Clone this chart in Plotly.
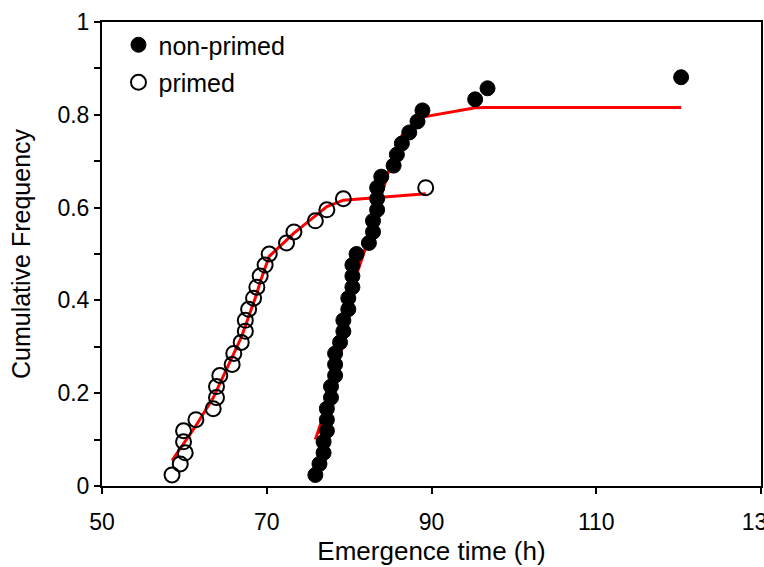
import plotly.graph_objects as go

# ---- data ----
nonprimed_time = [75.9, 76.4, 76.9, 76.9, 77.3, 77.3, 77.3, 77.8, 77.8, 78.3,
                  78.3, 78.3, 78.9, 79.3, 79.3, 79.9, 79.9, 80.4, 80.4, 80.4,
                  80.9, 82.4, 82.9, 82.9, 83.4, 83.4, 83.4, 83.9, 85.4, 85.8,
                  86.4, 87.3, 88.3, 88.9, 95.3, 96.8, 120.3]
nonprimed_freq = [k / 42 for k in range(1, 38)]

primed_time = [58.5, 59.5, 60.1, 59.9, 59.9, 61.4, 63.5, 63.9, 63.9, 64.3,
               65.8, 66.0, 66.9, 67.4, 67.4, 67.8, 68.4, 68.8, 69.2, 69.8,
               70.3, 72.4, 73.3, 75.9, 77.3, 79.3, 89.3]
primed_freq = [k / 42 for k in range(1, 28)]

nonprimed_fit_x = [75.9, 76.4, 76.9, 77.3, 77.8, 78.3, 78.9, 79.3, 79.9, 80.4,
                   80.9, 82.4, 82.9, 83.4, 83.9, 85.4, 85.8, 86.4, 87.3, 88.3,
                   88.9, 95.3, 96.8, 120.3]
nonprimed_fit_y = [0.100, 0.126, 0.153, 0.178, 0.210, 0.240, 0.280, 0.310, 0.365, 0.410,
                   0.455, 0.535, 0.562, 0.591, 0.625, 0.715, 0.732, 0.755, 0.772, 0.787,
                   0.795, 0.815, 0.816, 0.816]

primed_fit_x = [58.5, 59.5, 59.9, 61.4, 63.5, 63.9, 64.3, 65.8, 66.0, 66.9,
                67.4, 67.9, 68.4, 68.8, 69.2, 69.8, 70.3, 72.4, 73.3, 75.9,
                77.3, 79.3, 89.3]
primed_fit_y = [0.055, 0.080, 0.090, 0.130, 0.190, 0.205, 0.220, 0.275, 0.283, 0.320,
                0.345, 0.370, 0.395, 0.415, 0.440, 0.470, 0.495, 0.530, 0.545, 0.582,
                0.602, 0.616, 0.630]

x_ticks = [50, 70, 90, 110, 130]
y_ticks = [0, 0.2, 0.4, 0.6, 0.8, 1]
y_tick_labels = ["0", "0.2", "0.4", "0.6", "0.8", "1"]

FONT = "Arial, Liberation Sans, sans-serif"

fig = go.Figure()
fig.add_trace(go.Scatter(x=nonprimed_fit_x, y=nonprimed_fit_y, mode="lines",
                         line=dict(color="#ff0000", width=3), showlegend=False,
                         hoverinfo="skip"))
fig.add_trace(go.Scatter(x=primed_fit_x, y=primed_fit_y, mode="lines",
                         line=dict(color="#ff0000", width=3), showlegend=False,
                         hoverinfo="skip"))
fig.add_trace(go.Scatter(x=nonprimed_time, y=nonprimed_freq, mode="markers",
                         name="non-primed", legendgroup="a",
                         marker=dict(symbol="circle", size=15, color="black",
                                     line=dict(color="black", width=1))))
fig.add_trace(go.Scatter(x=primed_time, y=primed_freq, mode="markers",
                         name="primed", legendgroup="b",
                         marker=dict(symbol="circle-open", size=15, color="black",
                                     line=dict(color="black", width=2))))

fig.update_layout(
    width=764, height=567,
    paper_bgcolor="white", plot_bgcolor="white",
    margin=dict(l=102, r=3, t=22, b=81, autoexpand=False),
    font=dict(family=FONT, size=23, color="black"),
    legend=dict(x=0.025, y=1.0, xanchor="left", yanchor="top",
                bgcolor="rgba(0,0,0,0)", font=dict(size=25, color="black"),
                tracegroupgap=2, traceorder="grouped", itemwidth=30),
    xaxis=dict(range=[50, 130], tickvals=x_ticks, ticktext=[str(v) for v in x_ticks],
               showgrid=False, zeroline=False, showline=True, linecolor="black",
               linewidth=2, mirror=True, ticks="outside", ticklen=6, tickwidth=1.5,
               tickcolor="black", tickfont=dict(size=23), automargin=False,
               ticklabeloverflow="allow", ticklabelstandoff=8,
               title=dict(text="Emergence time (h)", font=dict(size=26), standoff=8)),
    yaxis=dict(range=[0, 1], tickvals=y_ticks, ticktext=y_tick_labels,
               showgrid=False, zeroline=False, showline=True, linecolor="black",
               linewidth=2, mirror=True, ticks="outside", ticklen=6, tickwidth=1.5,
               tickcolor="black", tickfont=dict(size=23), automargin=False,
               minor=dict(dtick=0.1, ticks="outside", ticklen=6, tickwidth=1.5, tickcolor="black"),
               title=dict(text="Cumulative Frequency", font=dict(size=25), standoff=20)),
)

# remove the default 8px page margin so the figure fills the window exactly
fig.write_html("out.html",
               config={"displayModeBar": False},
               post_script="document.body.style.margin='0';document.body.style.overflow='hidden';")
